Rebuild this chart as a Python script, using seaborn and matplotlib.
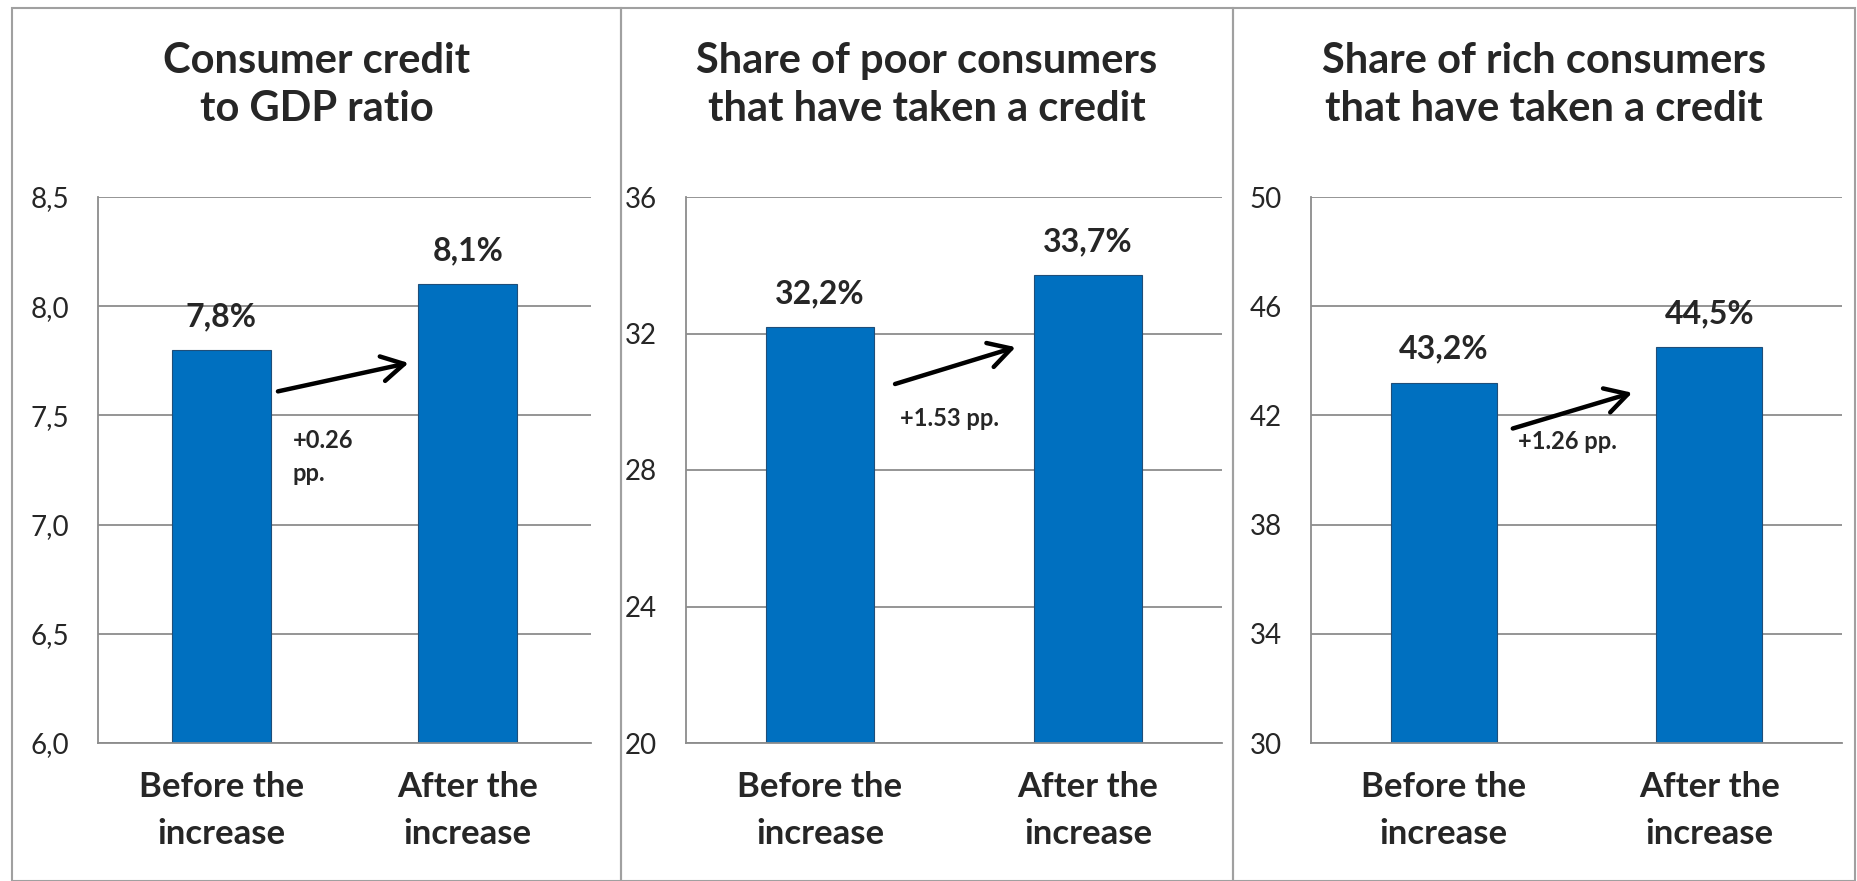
import numpy as np
import pandas as pd
import seaborn as sns
from matplotlib import pyplot as plt
from matplotlib.patches import Rectangle

sns.set_theme(style="white")
plt.rcParams["font.family"] = ["Lato", "DejaVu Sans"]

# data
titles = ["Consumer credit\nto GDP ratio",
          "Share of poor consumers\nthat have taken a credit",
          "Share of rich consumers\nthat have taken a credit"]
periods = ["Before the\nincrease", "After the\nincrease"]
credit_gdp = [7.8, 8.1]
poor_share = [32.2, 33.7]
rich_share = [43.2, 44.5]
value_labels = [["7,8%", "8,1%"], ["32,2%", "33,7%"], ["43,2%", "44,5%"]]
change_labels = ["+0.26\npp.", "+1.53 pp.", "+1.26 pp."]
y_ticks = [np.arange(6.0, 8.51, 0.5), np.arange(20, 36.1, 4), np.arange(30, 50.1, 4)]
tick_fmt = ["{:.1f}", "{:.0f}", "{:.0f}"]

# annotation placement (x in category units, y in data units)
arrows = [((0.23, 7.61), (0.76, 7.74)),
          ((0.28, 30.52), (0.73, 31.6)),
          ((0.26, 41.52), (0.71, 42.83))]
text_pos = [(0.29, 7.31), (0.30, 29.5), (0.28, 41.04)]

series = [credit_gdp, poor_share, rich_share]

W, H = 1858, 881
fig = plt.figure(figsize=(W / 100, H / 100), dpi=100)
fig.patch.set_facecolor("white")

# pixel boxes: panel frame (x0, x1) and axes (left, right)
frames = [(12, 621), (621, 1233), (1233, 1855)]
axes_px = [(98, 591), (686, 1222), (1311, 1842)]
ax_top, ax_bot = 197, 743

grid_c = "#8c8c8c"
bar_c = "#0070C0"

for i in range(3):
    fx0, fx1 = frames[i]
    fig.add_artist(Rectangle((fx0 / W, 0), (fx1 - fx0) / W, 1 - 8 / H,
                             transform=fig.transFigure, fill=False,
                             edgecolor="#a0a0a0", linewidth=1.5))
    l, r = axes_px[i]
    ax = fig.add_axes([l / W, 1 - ax_bot / H, (r - l) / W, (ax_bot - ax_top) / H])
    d = pd.DataFrame({"period": periods, "value": series[i]})
    sns.barplot(data=d, x="period", y="value", ax=ax, color=bar_c,
                width=0.4, saturation=1, edgecolor="#1f4e79", linewidth=0.8)
    lo, hi = y_ticks[i][0], y_ticks[i][-1]
    ax.set_ylim(lo, hi)
    ax.set_xlim(-0.5, 1.5)
    ax.set_yticks(y_ticks[i])
    ax.set_yticklabels([tick_fmt[i].format(t).replace(".", ",") for t in y_ticks[i]],
                       fontsize=20)
    ax.yaxis.grid(True, color=grid_c, linewidth=1.3)
    ax.set_axisbelow(True)
    ax.set_xlabel("")
    ax.set_ylabel("")
    ax.set_xticks([0, 1])
    ax.set_xticklabels(periods, fontsize=25, fontweight="bold", linespacing=1.6)
    ax.set_xticks([-0.5, 0.5, 1.5], minor=True)
    ax.tick_params(axis="x", which="major", length=0, pad=20)
    ax.tick_params(axis="x", which="minor", length=9, color=grid_c, width=1.3, direction="out")
    ax.tick_params(axis="y", length=7, color=grid_c, width=1.3, pad=14, direction="out")
    for s in ["top", "right"]:
        ax.spines[s].set_visible(False)
    for s in ["left", "bottom"]:
        ax.spines[s].set_color(grid_c)
        ax.spines[s].set_linewidth(1.3)
    for j, v in enumerate(series[i]):
        ax.annotate(value_labels[i][j], xy=(j, v), xytext=(0, 24),
                    textcoords="offset points", ha="center", va="center",
                    fontsize=23, fontweight="bold")
    (x0, y0), (x1, y1) = arrows[i]
    ax.annotate("", xy=(x1, y1), xytext=(x0, y0),
                arrowprops=dict(arrowstyle="->,head_length=0.8,head_width=0.45",
                                mutation_scale=20, color="black", lw=3.2,
                                shrinkA=0, shrinkB=0))
    tx, ty = text_pos[i]
    ax.text(tx, ty, change_labels[i], ha="left", va="center", fontsize=17,
            fontweight="bold", linespacing=1.5)
    fig.text(((fx0 + fx1) / 2) / W, 1 - 85 / H, titles[i], ha="center", va="center",
             fontsize=30, fontweight="bold", linespacing=1.35)

fig.savefig("out.png", dpi=100, facecolor="white")
